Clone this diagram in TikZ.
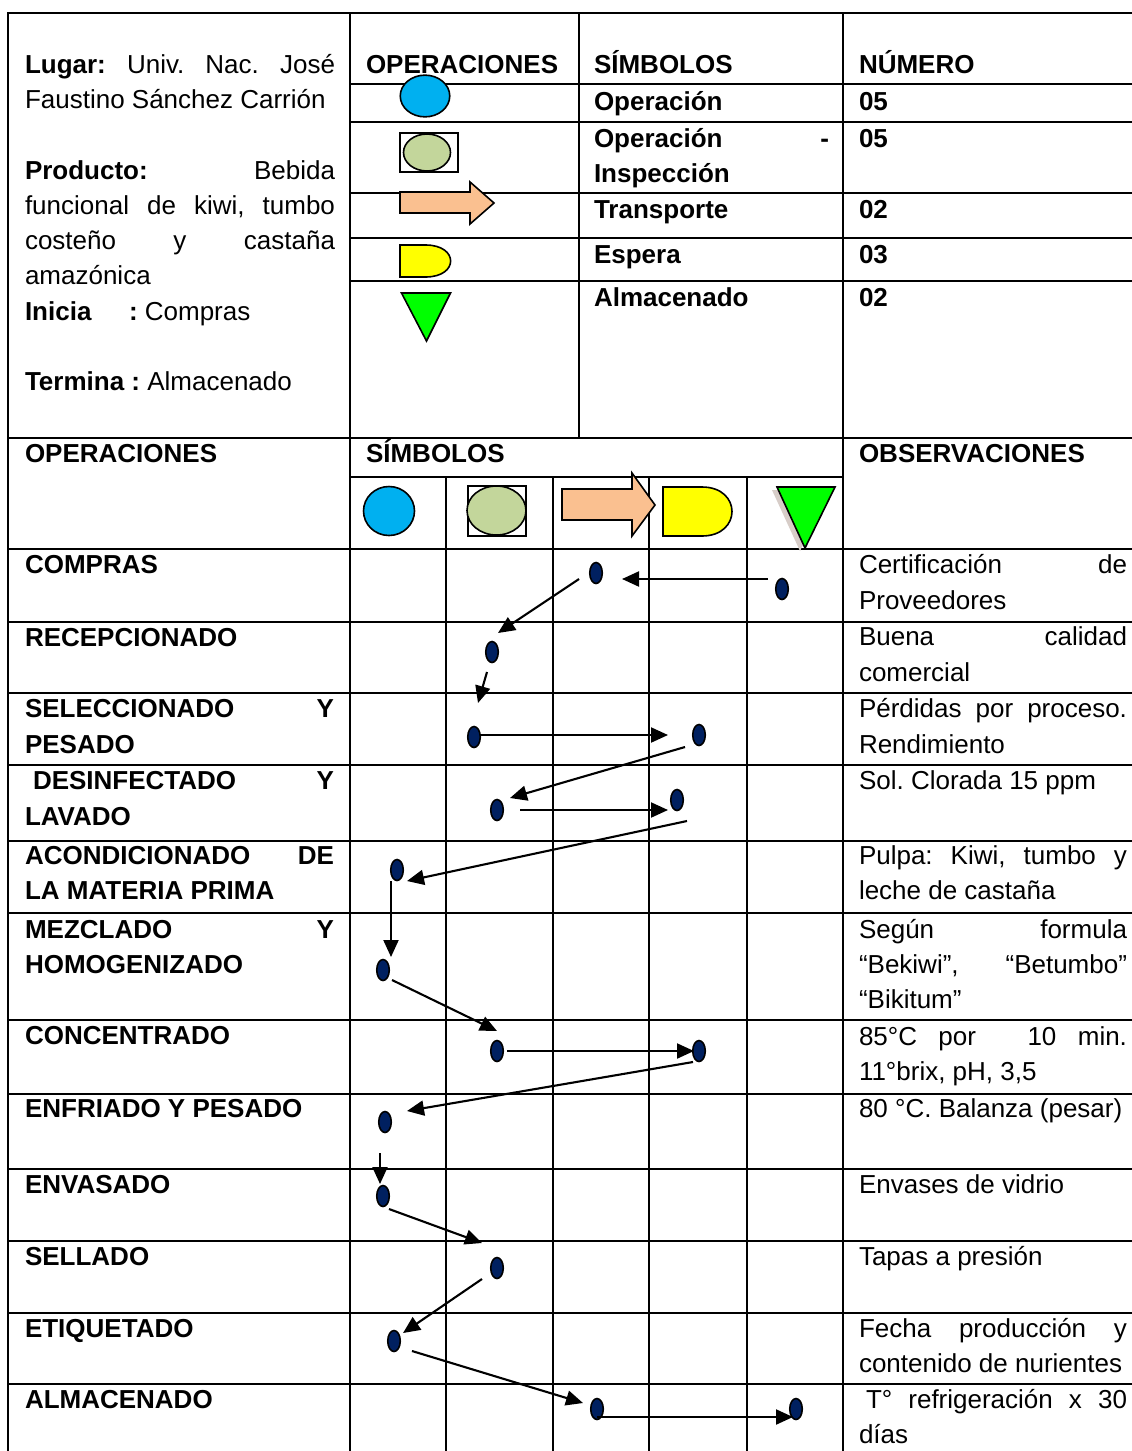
\documentclass[tikz,border=0pt]{standalone}
\usepackage{fontspec}
\setmainfont{Liberation Sans}
\usetikzlibrary{arrows.meta,shapes.geometric}
\definecolor{opblue}{HTML}{00B0F0}
\definecolor{insgreen}{HTML}{C3D69B}
\definecolor{trpeach}{HTML}{FAC090}
\definecolor{espyellow}{HTML}{FFFF00}
\definecolor{almgreen}{HTML}{00FF00}
\definecolor{dotnavy}{HTML}{002060}
\definecolor{shadowgray}{RGB}{215,205,200}
\newcommand{\JustLine}[2]{\makebox[#1][s]{#2}}
\frenchspacing
\tikzset{
  tablerule/.style={line width=2.4pt},
  txt/.style={anchor=base west, inner sep=0pt, outer sep=0pt, font=\fontsize{26}{35}\selectfont},
  btxt/.style={txt, font=\fontsize{26}{35}\selectfont\bfseries},
  dotmark/.style={ellipse, draw=black, line width=1.6pt, fill=dotnavy, minimum width=12.5pt, minimum height=21pt, inner sep=0pt},
  flow/.style={line width=2.1pt, -{Triangle[length=17pt,width=15pt]}},
  symline/.style={draw=black, line width=1.6pt, inner sep=0pt},
}
\begin{document}
\begin{tikzpicture}[x=1pt,y=-1pt]
\useasboundingbox (0,0) rectangle (1132,1451);
\fill[white] (0,0) rectangle (1132,1451);

% ---------- table rules ----------
\draw[tablerule] (1132,13) -- (8,13) -- (8,1451);
\draw[tablerule] (350,13) -- (350,1451);
\draw[tablerule] (579,13) -- (579,438);
\draw[tablerule] (843,13) -- (843,1451);
\foreach \yy in {84,122,193,238,281}{\draw[tablerule] (350,\yy) -- (1132,\yy);}
\draw[tablerule] (8,438) -- (1132,438);
\draw[tablerule] (350,477) -- (843,477);
\foreach \xx in {446,553,649,747}{\draw[tablerule] (\xx,477) -- (\xx,1451);}
\foreach \yy in {549,622,693,765,841,913,1020,1094,1169,1241,1313,1384}{\draw[tablerule] (8,\yy) -- (1132,\yy);}

% ---------- top-left text ----------
\node[txt] (tl1) at (25,73) {\JustLine{310pt}{\textbf{Lugar:} Univ. Nac. José}};
\node[txt] (tl2) at (25,108) {Faustino Sánchez Carrión};
\node[txt] (tl3) at (25,179) {\JustLine{310pt}{\textbf{Producto:} Bebida}};
\node[txt] (tl4) at (25,214) {\JustLine{310pt}{funcional de kiwi, tumbo}};
\node[txt] (tl5) at (25,249) {\JustLine{310pt}{costeño y castaña}};
\node[txt] (tl6) at (25,284) {amazónica};
\node[btxt] (tl7) at (25,320) {Inicia};
\node[txt] (tl8) at (129,320) {\textbf{:} Compras};
\node[txt] (tl9) at (25,390) {\textbf{Termina :} Almacenado};

% ---------- top header / legend ----------
\node[btxt] (h1) at (366,73) {OPERACIONES};
\node[btxt] (h2) at (594,73) {SÍMBOLOS};
\node[btxt] (h3) at (859,73) {NÚMERO};
\node[btxt] (s1) at (594,110) {Operación};
\node[btxt] (n1) at (859,110) {05};
\node[btxt] (s2) at (594,147) {\JustLine{235pt}{Operación -}};
\node[btxt] (s2b) at (594,182) {Inspección};
\node[btxt] (n2) at (859,147) {05};
\node[btxt] (s3) at (594,218) {Transporte};
\node[btxt] (n3) at (859,218) {02};
\node[btxt] (s4) at (594,263) {Espera};
\node[btxt] (n4) at (859,263) {03};
\node[btxt] (s5) at (594,306) {Almacenado};
\node[btxt] (n5) at (859,306) {02};

% ---------- top symbols ----------
\node[symline, ellipse, fill=opblue, minimum width=49.5pt, minimum height=41.7pt] (topOp) at (425,96) {};
\node[symline, rectangle, minimum width=58pt, minimum height=39pt] (topInsBox) at (429,152.5) {};
\node[symline, ellipse, fill=insgreen, minimum width=47pt, minimum height=37pt] (topIns) at (427,152.5) {};
\draw[line width=1.6pt, fill=trpeach] (400,192) -- (470,192) -- (470,182) -- (494,203) -- (470,224) -- (470,213) -- (400,213) -- cycle;
\draw[line width=1.6pt, fill=espyellow] (400,245) -- (425.5,245) .. controls (459,245) and (459,277) .. (425.5,277) -- (400,277) -- cycle;
\draw[line width=1.6pt, fill=almgreen] (401.5,293) -- (450.5,293) -- (426.5,341) -- cycle;

% ---------- lower header ----------
\node[btxt] (lh1) at (25,462) {OPERACIONES};
\node[btxt] (lh2) at (366,462) {SÍMBOLOS};
\node[btxt] (lh3) at (859,462) {OBSERVACIONES};

\node[symline, ellipse, fill=opblue, minimum width=51pt, minimum height=49pt] (symOp) at (389,511) {};
\node[symline, rectangle, minimum width=58pt, minimum height=50pt] (symInsBox) at (497,511) {};
\node[symline, ellipse, fill=insgreen, minimum width=59pt, minimum height=49pt] (symIns) at (496.5,510.5) {};
\draw[line width=1.6pt, fill=trpeach] (562,489) -- (632,489) -- (632,473) -- (655,505) -- (632,536) -- (632,520) -- (562,520) -- cycle;
\draw[line width=1.6pt, fill=espyellow] (663,487) -- (702,487) .. controls (742,487) and (742,536) .. (702,536) -- (663,536) -- cycle;
\fill[shadowgray] (772,490) -- (830,490) -- (800,551) -- cycle;
\draw[line width=1.6pt, fill=almgreen] (777,487) -- (835,487) -- (805,548) -- cycle;

% ---------- operation names ----------
\node[btxt] (r1) at (25,573) {COMPRAS};
\node[btxt] (r2) at (25,646) {RECEPCIONADO};
\node[btxt] (r3) at (25,717) {\JustLine{309pt}{SELECCIONADO Y}};
\node[btxt] (r3b) at (25,753) {PESADO};
\node[btxt] (r4) at (33,789) {\JustLine{301pt}{DESINFECTADO Y}};
\node[btxt] (r4b) at (25,825) {LAVADO};
\node[btxt] (r5) at (25,864) {\JustLine{309pt}{ACONDICIONADO DE}};
\node[btxt] (r5b) at (25,899) {LA MATERIA PRIMA};
\node[btxt] (r6) at (25,938) {\JustLine{309pt}{MEZCLADO Y}};
\node[btxt] (r6b) at (25,973) {HOMOGENIZADO};
\node[btxt] (r7) at (25,1044) {CONCENTRADO};
\node[btxt] (r8) at (25,1117) {ENFRIADO Y PESADO};
\node[btxt] (r9) at (25,1193) {ENVASADO};
\node[btxt] (r10) at (25,1265) {SELLADO};
\node[btxt] (r11) at (25,1337) {ETIQUETADO};
\node[btxt] (r12) at (25,1408) {ALMACENADO};

% ---------- observations ----------
\node[txt] (o1) at (859,573) {\JustLine{268pt}{Certificación de}};
\node[txt] (o1b) at (859,609) {Proveedores};
\node[txt] (o2) at (859,645) {\JustLine{268pt}{Buena calidad}};
\node[txt] (o2b) at (859,681) {comercial};
\node[txt] (o3) at (859,717) {\JustLine{268pt}{Pérdidas por proceso.}};
\node[txt] (o3b) at (859,753) {Rendimiento};
\node[txt] (o4) at (859,789) {Sol. Clorada 15 ppm};
\node[txt] (o5) at (859,864) {\JustLine{268pt}{Pulpa: Kiwi, tumbo y}};
\node[txt] (o5b) at (859,899) {leche de castaña};
\node[txt] (o6) at (859,938) {\JustLine{268pt}{Según formula}};
\node[txt] (o6b) at (859,973) {\JustLine{268pt}{“Bekiwi”, “Betumbo”}};
\node[txt] (o6c) at (859,1008) {“Bikitum”};
\node[txt] (o7) at (859,1045) {\JustLine{268pt}{85°C por\hspace{30pt} 10 min.}};
\node[txt] (o7b) at (859,1080) {11°brix, pH, 3,5};
\node[txt] (o8) at (859,1117) {80 °C. Balanza (pesar)};
\node[txt] (o9) at (859,1193) {Envases de vidrio};
\node[txt] (o10) at (859,1265) {Tapas a presión};
\node[txt] (o11) at (859,1337) {\JustLine{268pt}{Fecha producción y}};
\node[txt] (o11b) at (859,1372) {contenido de nurientes};
\node[txt] (o12) at (866,1408) {\JustLine{261pt}{T° refrigeración x 30}};
\node[txt] (o12b) at (859,1443) {días};

% ---------- flow dots ----------
\node[dotmark] (d0) at (782,589) {};
\node[dotmark] (d1) at (596,573) {};
\node[dotmark] (d2) at (492,652) {};
\node[dotmark] (d3) at (474,737) {};
\node[dotmark] (d4) at (699,735) {};
\node[dotmark] (d5) at (497,810) {};
\node[dotmark] (d6) at (677,800) {};
\node[dotmark] (d7) at (397,870) {};
\node[dotmark] (d8) at (383,970) {};
\node[dotmark] (d9) at (497,1051) {};
\node[dotmark] (d10) at (699,1051) {};
\node[dotmark] (d11) at (385,1122) {};
\node[dotmark] (d12) at (383,1196) {};
\node[dotmark] (d13) at (497,1268) {};
\node[dotmark] (d14) at (394,1341) {};
\node[dotmark] (d15) at (597,1409) {};
\node[dotmark] (d16) at (796,1409) {};

% ---------- flow arrows ----------
\coordinate (a1s) at (768,579);  \coordinate (a1e) at (622,579);
\coordinate (a2s) at (579,579);  \coordinate (a2e) at (498,633);
\coordinate (a3s) at (487,672);  \coordinate (a3e) at (478,703);
\coordinate (a4s) at (480,735);  \coordinate (a4e) at (668,735);
\coordinate (a5s) at (685,747);  \coordinate (a5e) at (510,798);
\coordinate (a6s) at (520,810);  \coordinate (a6e) at (668,810);
\coordinate (a7s) at (687,821);  \coordinate (a7e) at (407,881);
\coordinate (a8s) at (391,881);  \coordinate (a8e) at (391,957);
\coordinate (a9s) at (392,980);  \coordinate (a9e) at (497,1031);
\coordinate (a10s) at (507,1051); \coordinate (a10e) at (694,1051);
\coordinate (a11s) at (693,1062); \coordinate (a11e) at (407,1111);
\coordinate (a12s) at (380,1153); \coordinate (a12e) at (380,1184);
\coordinate (a13s) at (389,1209); \coordinate (a13e) at (482,1243);
\coordinate (a14s) at (482,1279); \coordinate (a14e) at (403,1333);
\coordinate (a15s) at (412,1351); \coordinate (a15e) at (583,1403);
\coordinate (a16s) at (597,1417); \coordinate (a16e) at (793,1417);
\foreach \k in {1,...,16}{\draw[flow] (a\k s) -- (a\k e);}
\end{tikzpicture}
\end{document}
